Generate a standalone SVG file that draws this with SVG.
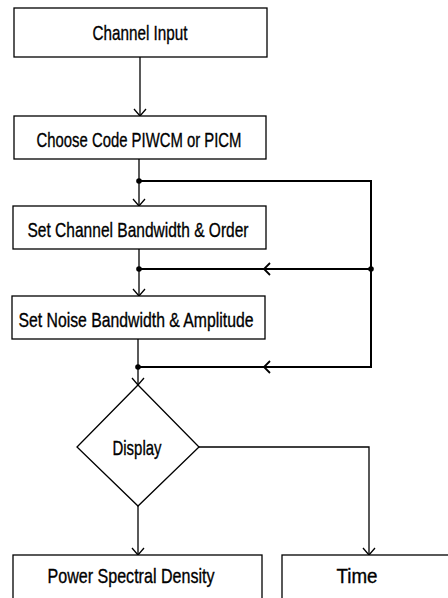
<svg xmlns="http://www.w3.org/2000/svg" width="448" height="598" viewBox="0 0 448 598">
<style>
.box{fill:#fff;stroke:#000;stroke-width:1.3}
.t{font-family:"Liberation Sans",Arial,sans-serif;font-size:21px;fill:#000;stroke:#000;stroke-width:0.35;text-anchor:middle}
.ln{fill:none;stroke:#000;stroke-width:1.3}
.fb{fill:none;stroke:#000;stroke-width:2}
.ah{fill:none;stroke:#000;stroke-width:1.3}
.dot{fill:#000}
</style>
<rect width="448" height="598" fill="#fff"/>
<g id="connectors">
<path class="ln" d="M140 57V116"/>
<path class="ah" d="M134 109L140 116L146 109"/>
<path class="ln" d="M139 159V206"/>
<path class="ah" d="M133 199L139 206L145 199"/>
<path class="ln" d="M139 249V296"/>
<path class="ah" d="M133 289L139 296L145 289"/>
<path class="ln" d="M138 339V385"/>
<path class="ah" d="M132 378L138 385L144 378"/>
<path class="fb" d="M139 181H371V367H138"/>
<path class="fb" d="M371 269H139"/>
<path class="ah" d="M270 263L264 269L270 275" style="stroke-width:1.8"/>
<path class="ah" d="M270 361L264 367L270 373" style="stroke-width:1.8"/>
<circle class="dot" cx="139" cy="181" r="2.8"/>
<circle class="dot" cx="139" cy="269" r="2.8"/>
<circle class="dot" cx="371" cy="269" r="2.8"/>
<circle class="dot" cx="138" cy="367" r="2.8"/>
<path class="ln" d="M138 506V555"/>
<path class="ah" d="M132 548L138 555L144 548"/>
<path class="ln" d="M199 447H369V555"/>
<path class="ah" d="M363 548L369 555L375 548"/>
</g>
<g id="channel-input">
<rect class="box" x="14" y="8" width="253" height="49"/>
<text class="t" x="140" y="40" textLength="95" lengthAdjust="spacingAndGlyphs">Channel Input</text>
</g>
<g id="choose-code">
<rect class="box" x="14" y="116" width="252" height="43"/>
<text class="t" x="139" y="147" textLength="205" lengthAdjust="spacingAndGlyphs">Choose Code PIWCM or PICM</text>
</g>
<g id="set-channel">
<rect class="box" x="13" y="206" width="253" height="43"/>
<text class="t" x="138" y="237" textLength="221" lengthAdjust="spacingAndGlyphs">Set Channel Bandwidth &amp; Order</text>
</g>
<g id="set-noise">
<rect class="box" x="12" y="296" width="253" height="43"/>
<text class="t" x="136" y="327" textLength="235" lengthAdjust="spacingAndGlyphs">Set Noise Bandwidth &amp; Amplitude</text>
</g>
<g id="display">
<path class="box" d="M138 385L199 447L138 506L77 447Z"/>
<text class="t" x="137" y="455" textLength="49" lengthAdjust="spacingAndGlyphs">Display</text>
</g>
<g id="psd">
<rect class="box" x="13" y="555" width="249" height="60"/>
<text class="t" x="131" y="583" textLength="167" lengthAdjust="spacingAndGlyphs">Power Spectral Density</text>
</g>
<g id="time">
<rect class="box" x="282" y="555" width="180" height="60"/>
<text class="t" x="357" y="583" textLength="41" lengthAdjust="spacingAndGlyphs">Time</text>
</g>
</svg>
